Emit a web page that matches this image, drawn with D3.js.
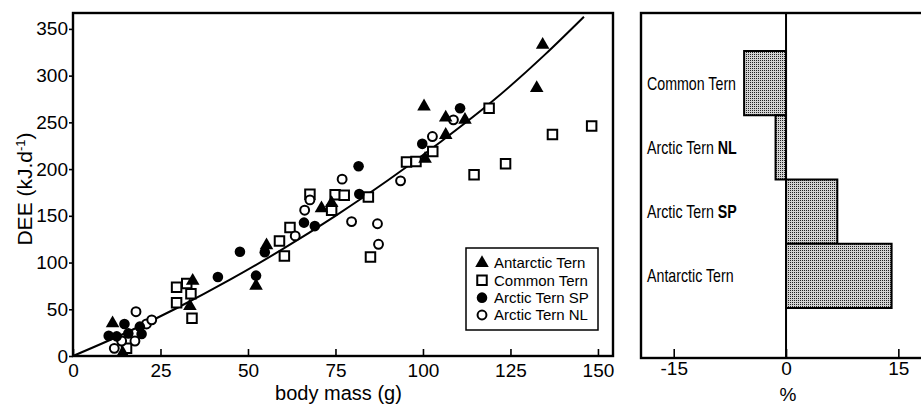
<!DOCTYPE html>
<html>
<head>
<meta charset="utf-8">
<script src="https://cdn.jsdelivr.net/npm/d3@7"></script>
<style>
  html, body { margin: 0; padding: 0; background: #fff; }
  svg { display: block; }
  text { font-family: "Liberation Sans", Arial, Helvetica, sans-serif; fill: #000; }
</style>
</head>
<body>
<svg id="chart" width="921" height="404"></svg>
<script>
// ---------- DATA ----------
const massTicks = [0, 25, 50, 75, 100, 125, 150];
const deeTicks = [0, 50, 100, 150, 200, 250, 300, 350];
const pctTicks = [-15, 0, 15];

// [body mass (g), DEE (kJ/d)]
const antarcticTern = [
  [11.3, 35], [14.2, 3], [33.4, 53.5], [34.2, 80.5], [52.3, 75], [55.3, 118.5],
  [71, 158], [73.9, 163.5], [100.3, 267], [100.6, 211], [106.5, 236.5],
  [106.5, 255], [112, 252.7], [132.5, 286.6], [134.2, 333]
];
const commonTern = [
  [15.3, 8.2], [29.6, 73.5], [29.6, 57], [32.5, 77.5], [33.7, 66.5], [34, 40.3],
  [59, 123], [60.4, 107], [62, 137.6], [67.7, 173], [73.9, 156], [74.9, 172.5],
  [77.5, 172], [84.4, 170], [85, 106], [95.3, 207.5], [98, 208], [102.8, 218.7],
  [114.6, 194], [118.9, 265], [123.6, 205.6], [137, 237], [148.2, 246]
];
const arcticTernSP = [
  [10.2, 21.7], [12.5, 21], [14.7, 34.3], [15.8, 24.2], [19.1, 31.4], [19.6, 23.5],
  [41.4, 84.5], [47.7, 111.6], [52.3, 86], [54.8, 111], [66, 142.7], [69.1, 139],
  [81.6, 203], [81.8, 173.4], [99.8, 227], [110.6, 265]
];
const arcticTernNL = [
  [11.8, 8.2], [13.9, 16], [17.7, 16], [18, 47.4], [21, 34.3], [22.5, 38.7],
  [63.5, 128.5], [66.2, 156], [67.7, 167], [76.9, 189.2], [79.6, 143.8],
  [87, 141.5], [87.3, 119.5], [93.6, 187.4], [102.7, 234.8], [108.7, 252.7]
];
// fitted curve, points
const fitCurve = [
  [0, 0], [15, 24.6], [30, 51.9], [45, 81.9], [60, 114.6], [75, 150], [90, 188],
  [105, 229], [120, 273], [135, 323], [146, 363]
];

const barCategories = ["Common Tern", "Arctic Tern NL", "Arctic Tern SP", "Antarctic Tern"];
const barValues = [-5.6, -1.4, 6.85, 14.1];

const legendLabels = ["Antarctic Tern", "Common Tern", "Arctic Tern SP", "Arctic Tern NL"];

// ---------- DRAW ----------
const svg = d3.select("#chart");
const defs = svg.append("defs");
const pat = defs.append("pattern").attr("id", "stipple")
  .attr("patternUnits", "userSpaceOnUse").attr("width", 2).attr("height", 2);
pat.append("rect").attr("width", 2).attr("height", 2).attr("fill", "#d2d2d2");
pat.append("rect").attr("width", 1).attr("height", 1).attr("fill", "#222");

// ===== Left scatter =====
const L = { left: 73, right: 613, top: 13, bottom: 356 };
const x = d3.scaleLinear().domain([0, 154.3]).range([L.left, L.right]);
const y = d3.scaleLinear().domain([0, 367]).range([L.bottom, L.top]);

const gx = svg.append("g").attr("transform", `translate(0,${L.bottom})`)
  .call(d3.axisBottom(x).tickValues(massTicks).tickSizeInner(-7).tickSizeOuter(0).tickPadding(8));
const gy = svg.append("g").attr("transform", `translate(${L.left},0)`)
  .call(d3.axisLeft(y).tickValues(deeTicks).tickSizeInner(4).tickSizeOuter(0).tickPadding(1));
[gx, gy].forEach(g => {
  g.select(".domain").remove();
  g.selectAll(".tick line").attr("stroke", "#000").attr("stroke-width", 1.6);
  g.selectAll(".tick text").attr("font-size", 19).attr("font-family", null);
});

svg.append("rect").attr("x", L.left).attr("y", L.top)
  .attr("width", L.right - L.left).attr("height", L.bottom - L.top)
  .attr("fill", "none").attr("stroke", "#000").attr("stroke-width", 2.4);

// curve
svg.append("path").datum(fitCurve)
  .attr("d", d3.line().x(d => x(d[0])).y(d => y(d[1])).curve(d3.curveMonotoneX))
  .attr("fill", "none").attr("stroke", "#000").attr("stroke-width", 2);

const sym = {
  tri: d3.symbol().type(d3.symbolTriangle).size(80),
  sq: d3.symbol().type(d3.symbolSquare).size(90),
  dot: d3.symbol().type(d3.symbolCircle).size(88),
  ring: d3.symbol().type(d3.symbolCircle).size(62)
};
const styles = {
  tri: { fill: "#000", stroke: "none", sw: 0 },
  sq: { fill: "#fff", stroke: "#000", sw: 2 },
  dot: { fill: "#000", stroke: "none", sw: 0 },
  ring: { fill: "#fff", stroke: "#000", sw: 2 }
};
function drawSeries(data, key) {
  svg.append("g").selectAll("path").data(data).join("path")
    .attr("transform", d => `translate(${x(d[0])},${y(d[1])})`)
    .attr("d", sym[key]())
    .attr("fill", styles[key].fill)
    .attr("stroke", styles[key].stroke)
    .attr("stroke-width", styles[key].sw);
}
drawSeries(commonTern, "sq");
drawSeries(arcticTernNL, "ring");
drawSeries(arcticTernSP, "dot");
drawSeries(antarcticTern, "tri");

// axis titles
svg.append("text").attr("x", x(75) + 3).attr("y", 400)
  .attr("text-anchor", "middle").attr("font-size", 20).text("body mass (g)");
const yt = svg.append("text").attr("transform", "translate(32,189) rotate(-90)")
  .attr("text-anchor", "middle").attr("font-size", 21);
yt.append("tspan").text("DEE (kJ.d");
yt.append("tspan").attr("font-size", 13).attr("baseline-shift", "super").text("-1");
yt.append("tspan").text(")");

// legend
const lg = svg.append("g");
lg.append("rect").attr("x", 466).attr("y", 248).attr("width", 132).attr("height", 82)
  .attr("fill", "#fff").attr("stroke", "#000").attr("stroke-width", 1.5);
const legKeys = ["tri", "sq", "dot", "ring"];
const legY = d3.scalePoint().domain(legendLabels).range([263, 315]);
legendLabels.forEach((lab, i) => {
  const k = legKeys[i];
  lg.append("path").attr("transform", `translate(482,${legY(lab)})`)
    .attr("d", sym[k]()).attr("fill", styles[k].fill)
    .attr("stroke", styles[k].stroke).attr("stroke-width", styles[k].sw);
  lg.append("text").attr("x", 494).attr("y", legY(lab)).attr("dy", "0.36em")
    .attr("font-size", 15).text(lab);
});

// ===== Right bar chart =====
const R = { left: 641, right: 925, top: 13, bottom: 358 };
const xb = d3.scaleLinear().domain([-19.37, 18.56]).range([R.left, R.right]);
const yb = d3.scaleBand().domain(barCategories).range([51, 308]).padding(0);

svg.append("g").selectAll("rect").data(barCategories).join("rect")
  .attr("x", (c, i) => xb(Math.min(0, barValues[i])))
  .attr("y", c => yb(c))
  .attr("width", (c, i) => Math.abs(xb(barValues[i]) - xb(0)))
  .attr("height", yb.bandwidth())
  .attr("fill", "url(#stipple)").attr("stroke", "#000").attr("stroke-width", 2);

const gxb = svg.append("g").attr("transform", `translate(0,${R.bottom})`)
  .call(d3.axisBottom(xb).tickValues(pctTicks).tickSizeInner(-9).tickSizeOuter(0).tickPadding(4)
    .tickFormat(d3.format("d")));
gxb.select(".domain").remove();
gxb.selectAll(".tick line").attr("stroke", "#000").attr("stroke-width", 1.6);
gxb.selectAll(".tick text").attr("font-size", 19).attr("font-family", null)
  .text(d => d < 0 ? "-" + Math.abs(d) : d);

svg.append("rect").attr("x", R.left).attr("y", R.top)
  .attr("width", R.right - R.left).attr("height", R.bottom - R.top)
  .attr("fill", "none").attr("stroke", "#000").attr("stroke-width", 2.4);
svg.append("line").attr("x1", xb(0)).attr("x2", xb(0)).attr("y1", R.top).attr("y2", R.bottom)
  .attr("stroke", "#000").attr("stroke-width", 2);

// category labels
barCategories.forEach(c => {
  const parts = c.match(/^(.*?)( NL| SP)?$/);
  const t = svg.append("text")
    .attr("transform", `translate(647,${yb(c) + yb.bandwidth() / 2}) scale(0.79,1)`)
    .attr("dy", "0.36em").attr("font-size", 18);
  t.append("tspan").text(parts[1]);
  if (parts[2]) t.append("tspan").attr("font-weight", "bold").text(parts[2]);
});

svg.append("text").attr("x", xb(0) + 2).attr("y", 401)
  .attr("text-anchor", "middle").attr("font-size", 19).text("%");
</script>
</body>
</html>
